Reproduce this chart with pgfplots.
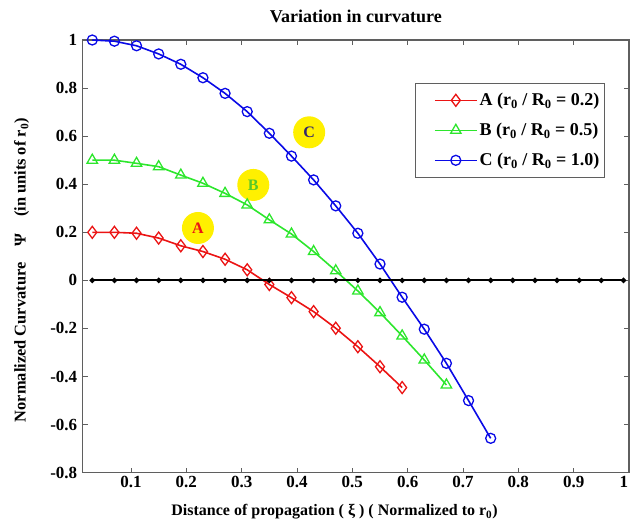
\documentclass[border=0pt]{standalone}
\usepackage{fontspec}
\setmainfont{Liberation Serif}
\usepackage{pgfplots}
\pgfplotsset{compat=1.18}
\definecolor{cred}{RGB}{235,20,20}
\definecolor{cgreen}{RGB}{45,230,45}
\definecolor{cblue}{RGB}{10,10,230}
\definecolor{axgray}{RGB}{95,95,95}
\definecolor{cyel}{RGB}{255,240,0}
\definecolor{cnavy}{RGB}{50,40,110}
\definecolor{lgreen}{RGB}{90,200,40}
\newcommand{\fs}[1]{\fontsize{#1}{#1}\selectfont\bfseries}
\pgfplotsset{
  longline/.style={legend image code/.code={%
    \path (-16pt,0pt);
    \draw[mark repeat=2,mark phase=2,##1] plot coordinates {(0pt,0pt) (21pt,0pt) (42pt,0pt)};}},
}
\begin{document}
\begin{tikzpicture}[x=1pt,y=1pt]
\useasboundingbox (0,0) rectangle (631,522);
\begin{axis}[
  at={(82.7pt,49.3pt)}, anchor=south west,
  scale only axis, width=546.3pt, height=432.7pt,
  xmin=0.0127, xmax=1, ymin=-0.8, ymax=1,
  xtick={0.1,0.2,0.3,0.4,0.5,0.6,0.7,0.8,0.9,1},
  xticklabels={0.1,0.2,0.3,0.4,0.5,0.6,0.7,0.8,0.9,\makebox[0pt][r]{1\kern1pt}},
  ytick={-0.8,-0.6,-0.4,-0.2,0,0.2,0.4,0.6,0.8,1},
  /pgf/number format/assume math mode=true,
  tick label style={font=\fs{17}},
  yticklabel style={xshift=-2pt},
  tick align=inside, major tick length=5pt,
  axis line style={axgray, line width=1.2pt},
  tick style={axgray, line width=1pt},
  clip=false,
  title={Variation in curvature},
  title style={at={(axis description cs:0.5,1.0416)}, anchor=center, yshift=0pt, font=\fs{18}},
  xlabel={Distance of propagation ( ξ ) ( Normalized to r\textsubscript{0})},
  xlabel style={at={(axis description cs:0.461,-0.090)}, anchor=center, font=\fs{16}},
  ylabel={Normalized Curvature\quad Ψ\quad (in units of r\textsubscript{0})},
  ylabel style={at={(axis description cs:-0.1117,0.468)}, anchor=center, font=\fs{16.4}},
  legend style={at={(0.956,0.901)}, anchor=north east, draw=axgray, line width=1pt,
    font=\fs{18}, inner xsep=3pt, inner ysep=8pt, row sep=12pt},
  legend image post style={line width=1.6pt},
  legend cell align=left,
  longline,
]
\addplot[cred, line width=1.6pt, mark=diamond, mark size=6pt, mark options={solid, line width=1.3pt}]
 coordinates {(0.03,0.2) (0.07,0.2) (0.11,0.196) (0.15,0.176) (0.19,0.144) (0.23,0.12) (0.27,0.088) (0.31,0.044) (0.35,-0.017) (0.39,-0.072) (0.43,-0.13) (0.47,-0.199) (0.51,-0.276) (0.55,-0.359) (0.59,-0.446)};
\addlegendentry{A (r\textsubscript{0} / R\textsubscript{0} = 0.2)}
\addplot[cgreen, line width=1.6pt, mark=triangle, mark size=6pt, mark options={solid, line width=1.3pt}]
 coordinates {(0.03,0.5) (0.07,0.5) (0.11,0.487) (0.15,0.473) (0.19,0.438) (0.23,0.404) (0.27,0.362) (0.31,0.314) (0.35,0.252) (0.39,0.193) (0.43,0.12) (0.47,0.04) (0.51,-0.044) (0.55,-0.134) (0.59,-0.231) (0.63,-0.331) (0.67,-0.435)};
\addlegendentry{B (r\textsubscript{0} / R\textsubscript{0} = 0.5)}
\addplot[cblue, line width=1.6pt, mark=o, mark size=5pt, mark options={solid, line width=1.3pt}]
 coordinates {(0.03,1.0) (0.07,0.995) (0.11,0.976) (0.15,0.942) (0.19,0.899) (0.23,0.843) (0.27,0.778) (0.31,0.702) (0.35,0.612) (0.39,0.517) (0.43,0.418) (0.47,0.31) (0.51,0.196) (0.55,0.068) (0.59,-0.07) (0.63,-0.203) (0.67,-0.345) (0.71,-0.5) (0.75,-0.657)};
\addlegendentry{C (r\textsubscript{0} / R\textsubscript{0} = 1.0)}
\addplot[black, line width=1.8pt, mark=*, mark size=1.7pt, forget plot]
 coordinates {(0.03,0) (0.07,0) (0.11,0) (0.15,0) (0.19,0) (0.23,0) (0.27,0) (0.31,0) (0.35,0) (0.39,0) (0.43,0) (0.47,0) (0.51,0) (0.55,0) (0.59,0) (0.63,0) (0.67,0) (0.71,0) (0.75,0) (0.79,0) (0.83,0) (0.87,0) (0.91,0) (0.95,0) (0.99,0)};
\node[circle, fill=cyel, minimum size=32pt, inner sep=0pt, text=cred, font=\fs{16}] at (axis cs:0.221,0.218) {A};
\node[circle, fill=cyel, minimum size=32pt, inner sep=0pt, text=lgreen, font=\fs{16}] at (axis cs:0.321,0.397) {B};
\node[circle, fill=cyel, minimum size=32pt, inner sep=0pt, text=cnavy, font=\fs{16}] at (axis cs:0.422,0.616) {C};
\end{axis}
\end{tikzpicture}
\end{document}
